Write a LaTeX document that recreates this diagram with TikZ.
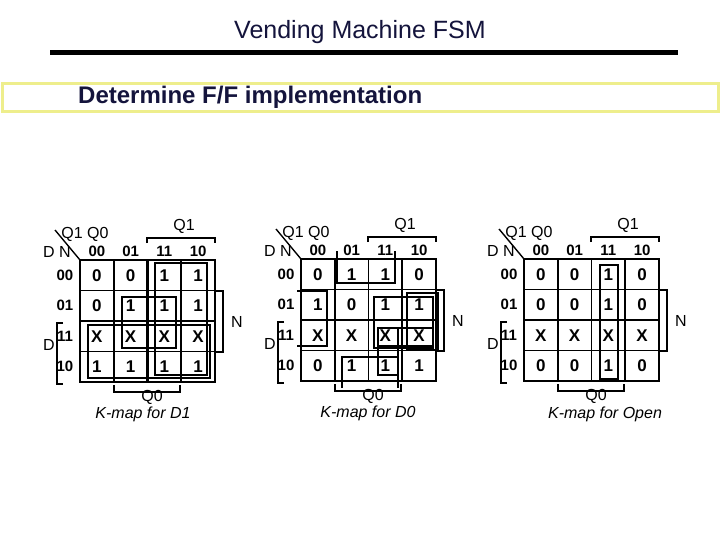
\documentclass[tikz,border=0pt]{standalone}
\usepackage{fontspec}
\setmainfont{Liberation Sans}
\definecolor{navy}{RGB}{20,20,60}
\definecolor{pale}{RGB}{238,238,140}
\newcommand\kmW{33.75}
\newcommand\kmH{30.5}
\newcommand\kmXX{X}
\newcommand\kmapbody[3]{%
  % #1 prefix, #2 values, #3 caption
  \foreach \v [count=\i from 0] in {#2}{%
    \pgfmathtruncatemacro\rr{int(\i/4)}%
    \pgfmathtruncatemacro\cc{mod(\i,4)}%
    \ifx\v\kmXX\def\sty{xval}\else\def\sty{dval}\fi
    \node[\sty] (#1-\rr-\cc) at ({(\cc+0.5)*\kmW},{(\rr+0.5)*\kmH}) {\v};
  }
  \foreach \t [count=\k from 0] in {00,01,11,10}{%
    \node[hdr] (#1-ch\k) at ({(\k+0.5)*\kmW},-9) {\t};
    \node[hdr] (#1-rh\k) at (-15,{(\k+0.5)*\kmH}) {\t};
  }
  \draw[gridline] (0,0) rectangle (4*\kmW,4*\kmH);
  \foreach \k in {1,3}{%
    \draw[gridline] (\k*\kmW,0) -- (\k*\kmW,4*\kmH);
    \draw[gridline] (0,\k*\kmH) -- (4*\kmW,\k*\kmH);
  }
  \draw[gridline] (2*\kmW,0) -- (2*\kmW,4*\kmH);
  \draw[midline] (0,2*\kmH) -- (4*\kmW,2*\kmH);
  \node[lbl] (#1-q1q0) at (5,-26) {Q1 Q0};
  \node[lbl] (#1-dn) at (-23,-8) {D N};
  \coordinate (#1-corner) at (0,0);
  \coordinate (#1-diag) at (-25,-30);
  \draw[line width=1.4pt] (#1-diag) -- (#1-corner);
  \node[lbl] (#1-q1) at (104,-34) {Q1};
  \draw[brk] (67,-17) -- (67,-22) -- (135,-22) -- (135,-17);
  \node[lbl] (#1-n) at (157,62) {N};
  \draw[brk] (136,31) -- (143,31) -- (143,92) -- (136,92);
  \node[lbl] (#1-d) at (-31,85) {D};
  \draw[brk] (-17,63) -- (-23,63) -- (-23,124) -- (-17,124);
  \draw[line width=2.4pt] (-23,63) -- (-23,124);
  \node[lbl] (#1-q0) at (72,137.5) {Q0};
  \draw[brk] (34,125) -- (34,132) -- (100,132) -- (100,125);
}
\begin{document}
\begin{tikzpicture}[x=1pt,y=-1pt,
  dval/.style={font=\fontsize{17}{17}\selectfont\bfseries, inner sep=0pt},
  xval/.style={font=\fontsize{16}{16}\selectfont, inner sep=0pt},
  hdr/.style={font=\fontsize{15}{15}\selectfont\bfseries, inner sep=0pt},
  lbl/.style={font=\fontsize{16}{16}\selectfont, inner sep=0pt},
  captxt/.style={font=\fontsize{16}{16}\selectfont\itshape, inner sep=0pt},
  gridline/.style={line width=1.6pt},
  midline/.style={line width=2.8pt},
  grp/.style={line width=1.6pt},
  brk/.style={line width=1.6pt},
]
\useasboundingbox[fill=white] (0,0) rectangle (720,540);
\node[font=\fontsize{25}{25}\selectfont, text=navy, inner sep=0pt] (title) at (360,32.5) {Vending Machine FSM};
\draw[line width=5pt] (50,52.5) -- (678,52.5);
\draw[pale, line width=3pt] (2,83.5) rectangle (718,111.5);
\node[anchor=west, font=\fontsize{24}{24}\selectfont\bfseries, text=navy, inner sep=0pt] (sub) at (78,97.5) {Determine F/F implementation};

\begin{scope}[shift={(80,260)}]
  \kmapbody{ma}{0,0,1,1,0,1,1,1,X,X,X,X,1,1,1,1}{}
  \draw[line width=2.6pt] (2*\kmW,0) -- (2*\kmW,4*\kmH);
  \draw[grp] (75,3) rectangle (127,115);
  \draw[grp] (8,65) rectangle (130,118);
  \draw[grp] (42,37) rectangle (96,88);
  \node[captxt] (ma-cap) at (63,154.5) {K-map for D1};
\end{scope}

\begin{scope}[shift={(301,259)}]
  \kmapbody{mb}{0,1,1,0,1,0,1,1,X,X,X,X,0,1,1,1}{}
  \draw[grp] (36,-8) -- (36,24) -- (94,24) -- (94,-8);
  \draw[grp] (41,129) -- (41,98) -- (97,98) -- (97,129);
  \draw[grp] (-4,32) -- (26,32) -- (26,87) -- (-4,87);
  \draw[grp] (73,38) rectangle (132,89);
  \draw[grp] (106,34) rectangle (137,91);
  \draw[line width=2.4pt] (137,34) -- (137,91);
  \draw[grp] (77,69) rectangle (132,87);
  \draw[grp] (77,69) rectangle (97,116);
  \node[captxt] (mb-cap) at (67,154) {K-map for D0};
\end{scope}

\begin{scope}[shift={(524,259)}]
  \kmapbody{mc}{0,0,1,0,0,0,1,0,X,X,X,X,0,0,1,0}{}
  \draw[grp] (76,6) rectangle (94,120);
  \node[captxt] (mc-cap) at (81,155) {K-map for Open};
\end{scope}
\end{tikzpicture}
\end{document}
